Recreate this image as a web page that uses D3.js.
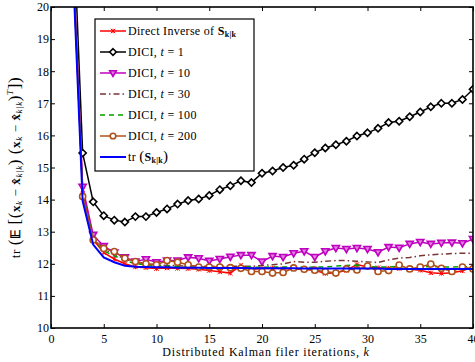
<!DOCTYPE html>
<html>
<head>
<meta charset="utf-8">
<script src="https://cdn.jsdelivr.net/npm/d3@7"></script>
<style>
  body { margin: 0; background: #fff; }
  svg { display: block; }
  text { font-family: "Liberation Serif", "DejaVu Serif", serif; fill: #000; }
</style>
</head>
<body>
<svg id="chart" width="475" height="362"></svg>
<script>
// iterations k = 2..40
const iterations = d3.range(2, 41);

const directInverse = [22.0, 14.3, 12.75, 12.35, 12.15, 12.0, 11.9, 11.88, 11.85, 11.87, 11.86, 11.85, 11.83, 11.79,
  11.75, 11.71, 11.95, 11.83, 11.85, 11.86, 11.85, 11.84, 11.83, 11.8, 11.7, 11.72, 11.8, 11.98, 11.9, 11.88,
  11.86, 11.85, 11.83, 11.8, 11.72, 11.7, 11.72, 11.78, 11.9];
const dici1 = [23.6, 15.45, 13.93, 13.5, 13.36, 13.3, 13.47, 13.47, 13.6, 13.71, 13.86, 13.97, 14.02, 14.13,
  14.31, 14.43, 14.59, 14.53, 14.82, 14.89, 15.0, 15.07, 15.26, 15.46, 15.61, 15.71, 15.82, 15.98, 16.08, 16.22,
  16.4, 16.44, 16.58, 16.73, 16.89, 17.0, 17.0, 17.12, 17.44];
const dici10 = [22.2, 14.4, 12.9, 12.55, 12.35, 12.2, 12.07, 12.14, 12.05, 12.1, 12.1, 12.2, 12.17, 12.09,
  12.15, 12.22, 12.27, 12.27, 12.07, 12.24, 12.21, 12.33, 12.39, 12.21, 12.39, 12.49, 12.46, 12.49, 12.46, 12.36,
  12.52, 12.5, 12.62, 12.68, 12.62, 12.65, 12.66, 12.64, 12.77];
const dici30 = [22.1, 14.2, 12.8, 12.45, 12.3, 12.15, 12.05, 12.0, 11.97, 11.95, 11.94, 11.93, 11.93, 11.92,
  11.92, 11.92, 11.92, 11.92, 11.95, 11.97, 12.0, 12.07, 12.05, 12.05, 12.08, 12.1, 12.1, 12.08, 12.06, 12.04,
  12.12, 12.18, 12.2, 12.25, 12.28, 12.3, 12.32, 12.33, 12.33];
const dici100 = [22.0, 14.2, 12.75, 12.4, 12.25, 12.1, 12.0, 11.97, 11.94, 11.93, 11.92, 11.91, 11.9, 11.9,
  11.9, 11.89, 11.9, 11.9, 11.89, 11.9, 11.9, 11.9, 11.89, 11.9, 11.9, 11.93, 11.95, 11.96, 11.92, 11.9,
  11.9, 11.92, 11.9, 11.9, 11.91, 11.9, 11.9, 11.91, 11.9];
const dici200 = [22.1, 14.1, 12.74, 12.48, 12.38, 12.17, 12.07, 12.0, 11.97, 12.1, 12.05, 11.97, 11.9, 11.9,
  11.9, 11.88, 11.86, 11.76, 11.76, 11.71, 11.73, 11.87, 11.83, 11.8, 11.76, 11.71, 11.84, 11.81, 11.93, 11.76,
  11.79, 11.96, 11.84, 11.9, 11.99, 11.86, 11.76, 11.9, 11.84];
const traceS = [21.8, 13.95, 12.6, 12.2, 12.05, 11.94, 11.91, 11.9, 11.89, 11.89, 11.88, 11.88, 11.88, 11.87,
  11.87, 11.87, 11.87, 11.86, 11.86, 11.86, 11.86, 11.86, 11.85, 11.85, 11.85, 11.85, 11.85, 11.85, 11.85, 11.85,
  11.84, 11.84, 11.84, 11.84, 11.84, 11.84, 11.84, 11.84, 11.84];

const xTicks = d3.range(0, 41, 5);
const yTicks = d3.range(10, 21, 1);

const series = [
  { name: 'direct', values: directInverse, color: '#ff0000', width: 1.5, dash: null, marker: 'x' },
  { name: 't1', values: dici1, color: '#000000', width: 1.5, dash: null, marker: 'diamond' },
  { name: 't10', values: dici10, color: '#bf00bf', width: 1.5, dash: null, marker: 'triangle' },
  { name: 't30', values: dici30, color: '#7a3535', width: 1.5, dash: '6,3,1.5,3', marker: null },
  { name: 't100', values: dici100, color: '#00a000', width: 1.5, dash: '5,4', marker: null },
  { name: 't200', values: dici200, color: '#b0501a', width: 1.5, dash: null, marker: 'circle' },
  { name: 'trS', values: traceS, color: '#0000ff', width: 2, dash: null, marker: null }
];

const W = 475, H = 362;
const margin = { top: 7, right: 2, bottom: 34, left: 51 };
const iw = W - margin.left - margin.right;
const ih = H - margin.top - margin.bottom;

const svg = d3.select('#chart');
const g = svg.append('g').attr('transform', `translate(${margin.left},${margin.top})`);

const x = d3.scaleLinear().domain([0, 40]).range([0, iw]);
const y = d3.scaleLinear().domain([10, 20]).range([ih, 0]);

svg.append('defs').append('clipPath').attr('id', 'plotclip')
  .append('rect').attr('width', iw).attr('height', ih);

// ticks inward on all four sides
const tickLen = 4;
g.append('g').call(d3.axisBottom(x).tickValues(xTicks).tickSize(-tickLen).tickPadding(6))
  .attr('transform', `translate(0,${ih})`).call(a => a.select('.domain').remove());
g.append('g').call(d3.axisTop(x).tickValues(xTicks).tickSize(-tickLen).tickFormat(''))
  .call(a => a.select('.domain').remove());
g.append('g').call(d3.axisLeft(y).tickValues(yTicks).tickSize(-tickLen).tickPadding(2))
  .call(a => a.select('.domain').remove());
g.append('g').call(d3.axisRight(y).tickValues(yTicks).tickSize(-tickLen).tickFormat(''))
  .attr('transform', `translate(${iw},0)`).call(a => a.select('.domain').remove());
g.selectAll('.tick text').attr('font-size', 12).style('font-family', '"Liberation Serif", serif');
g.selectAll('.tick line').attr('stroke', '#000').attr('stroke-width', 1);

const plot = g.append('g').attr('clip-path', 'url(#plotclip)');

const line = d3.line().x((d, i) => x(iterations[i])).y(d => y(d));

function drawMarker(sel, type, color, size) {
  if (type === 'x') {
    sel.append('path').attr('d', `M${-size},${-size}L${size},${size}M${-size},${size}L${size},${-size}M0,${-size}V${size}`)
      .attr('stroke', color).attr('stroke-width', 1).attr('fill', 'none');
  } else if (type === 'diamond') {
    sel.append('path').attr('d', `M0,${-size}L${size},0L0,${size}L${-size},0Z`)
      .attr('stroke', color).attr('stroke-width', 1.6).attr('fill', '#fff');
  } else if (type === 'triangle') {
    sel.append('path').attr('d', `M${-size},${-size * 0.7}L${size},${-size * 0.7}L0,${size}Z`)
      .attr('stroke', color).attr('stroke-width', 1.6).attr('fill', '#e080e0');
  } else if (type === 'circle') {
    sel.append('circle').attr('r', size * 0.85)
      .attr('stroke', color).attr('stroke-width', 1.6).attr('fill', '#fff');
  }
}

series.forEach(s => {
  plot.append('path').datum(s.values)
    .attr('d', line)
    .attr('fill', 'none')
    .attr('stroke', s.color)
    .attr('stroke-width', s.width)
    .attr('stroke-dasharray', s.dash);
  if (s.marker) {
    const size = s.marker === 'x' ? 2.2 : 3.6;
    plot.append('g').selectAll('g')
      .data(s.values.map((v, i) => [iterations[i], v]).filter(d => d[0] >= 3))
      .join('g')
      .attr('transform', d => `translate(${x(d[0])},${y(d[1])})`)
      .each(function () { drawMarker(d3.select(this), s.marker, s.color, size); });
  }
});

// frame
g.append('rect').attr('width', iw).attr('height', ih)
  .attr('fill', 'none').attr('stroke', '#000').attr('stroke-width', 1.6);

// legend
const legend = g.append('g').attr('transform', `translate(${95 - margin.left},${19 - margin.top})`);
legend.append('rect').attr('width', 159).attr('height', 152)
  .attr('fill', '#fff').attr('stroke', '#000').attr('stroke-width', 1.2);

const legendLabels = [
  [{ t: 'Direct Inverse of ' }, { t: 'S', b: true }, { t: 'k|k', sub: true, b: true }],
  [{ t: 'DICI, ' }, { t: 't', i: true }, { t: ' = 1' }],
  [{ t: 'DICI, ' }, { t: 't', i: true }, { t: ' = 10' }],
  [{ t: 'DICI, ' }, { t: 't', i: true }, { t: ' = 30' }],
  [{ t: 'DICI, ' }, { t: 't', i: true }, { t: ' = 100' }],
  [{ t: 'DICI, ' }, { t: 't', i: true }, { t: ' = 200' }],
  [{ t: 'tr ' }, { t: '(' , big: true }, { t: 'S', b: true }, { t: 'k|k', sub: true, b: true }, { t: ')', big: true }]
];

series.forEach((s, i) => {
  const row = legend.append('g').attr('transform', `translate(0,${12 + i * 21})`);
  row.append('line').attr('x1', 5).attr('x2', 31).attr('y1', 0).attr('y2', 0)
    .attr('stroke', s.color).attr('stroke-width', s.width).attr('stroke-dasharray', s.dash);
  if (s.marker) {
    const m = row.append('g').attr('transform', 'translate(18,0)');
    drawMarker(m, s.marker, s.color, s.marker === 'x' ? 2.2 : 3.3);
  }
  const txt = row.append('text').attr('x', 33).attr('y', 4).attr('font-size', 12)
    .style('letter-spacing', '0.3px');
  legendLabels[i].forEach(p => {
    const ts = txt.append('tspan').text(p.t);
    if (p.b) ts.attr('font-weight', 'bold');
    if (p.i) ts.attr('font-style', 'italic');
    if (p.sub) ts.attr('font-size', 8).attr('baseline-shift', '-25%');
    if (p.big) ts.attr('font-size', 15);
  });
});

// axis titles
svg.append('text')
  .attr('x', margin.left + iw / 2 + 4).attr('y', 356)
  .attr('text-anchor', 'middle').attr('font-size', 12)
  .style('letter-spacing', '0.8px')
  .text('Distributed Kalman filer iterations, ')
  .append('tspan').attr('font-style', 'italic').text('k');

const yl = svg.append('text')
  .attr('transform', `translate(20,${margin.top + ih / 2}) rotate(-90)`)
  .attr('text-anchor', 'middle').attr('font-size', 13)
  .style('letter-spacing', '0.6px');
const ylParts = [
  { t: 'tr ' }, { t: '(', big: true }, { t: '𝔼', b: true }, { t: ' [', big: true }, { t: '(', big: true },
  { t: 'x', b: true }, { t: 'k', sub: true, i: true }, { t: ' − ' }, { t: 'x̂', b: true }, { t: 'k|k', sub: true, i: true },
  { t: ')', big: true }, { t: ' (', big: true }, { t: 'x', b: true }, { t: 'k', sub: true, i: true }, { t: ' − ' },
  { t: 'x̂', b: true }, { t: 'k|k', sub: true, i: true }, { t: ')', big: true }, { t: 'T', sup: true, i: true },
  { t: ']', big: true }, { t: ')', big: true }
];
ylParts.forEach(p => {
  const ts = yl.append('tspan').text(p.t);
  if (p.b) ts.attr('font-weight', 'bold');
  if (p.i) ts.attr('font-style', 'italic');
  if (p.sub) ts.attr('font-size', 9).attr('baseline-shift', '-25%');
  if (p.sup) ts.attr('font-size', 9).attr('baseline-shift', '80%');
  if (p.big) ts.attr('font-size', 17);
});
</script>
</body>
</html>
